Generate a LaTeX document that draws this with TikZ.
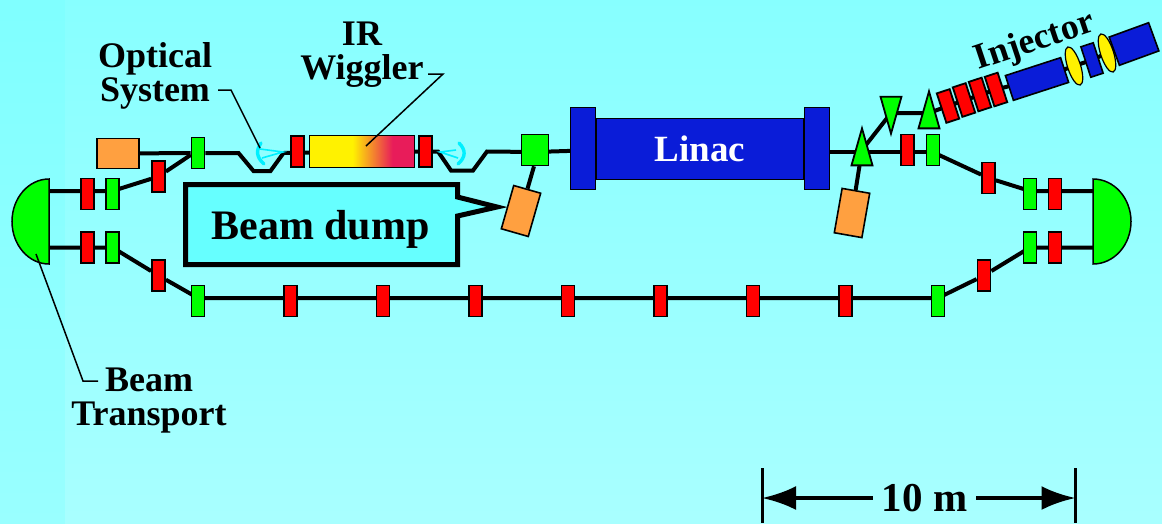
\documentclass[tikz,border=0pt]{standalone}
\usepackage{fontspec}
\setmainfont{Liberation Serif}
\usetikzlibrary{positioning,calc,backgrounds,shapes.geometric,arrows.meta}

\definecolor{magred}{HTML}{FF0000}
\definecolor{maggreen}{HTML}{00FF00}
\definecolor{dumporange}{HTML}{FFA040}
\definecolor{cavblue}{HTML}{0A1CD8}
\definecolor{dumpcyan}{HTML}{66FFFF}
\definecolor{mirrorcyan}{HTML}{00F0FF}
\definecolor{wigyellow}{HTML}{FFF200}
\definecolor{wigred}{HTML}{E81C5A}
\pgfdeclarehorizontalshading{wigshade}{100bp}{
  color(0bp)=(wigyellow); color(45.5bp)=(wigyellow);
  color(64.5bp)=(wigred); color(100bp)=(wigred)}

\begin{document}
\begin{tikzpicture}[
  x=1pt, y=-1pt,
  mag/.style={
    draw,
    line width=1.8pt,
    inner sep=0pt,
    minimum width=13pt,
    minimum height=31pt
  },
  quad/.style={mag, fill=magred},     % red magnets
  dip/.style={mag, fill=maggreen},    % green magnets
  dump/.style={draw, line width=1.6pt, inner sep=0pt, fill=dumporange},
  cav/.style={draw, line width=1.6pt, inner sep=0pt, fill=cavblue},
  tri/.style={
    draw,
    line width=1.8pt,
    fill=maggreen,
    inner sep=0pt,
    isosceles triangle,
    isosceles triangle stretches,
    minimum width=21pt,
    minimum height=37pt,
    anchor=apex
  },
  lens/.style={
    draw,
    line width=1.2pt,
    fill=yellow,
    ellipse,
    inner sep=0pt,
    minimum width=13pt,
    minimum height=40pt,
    rotate=18
  },
  arcmag/.style={draw, line width=1.5pt, fill=maggreen},
  beam/.style={line width=4pt, line join=miter},
  lead/.style={line width=1.5pt},
  mirror/.style={draw=mirrorcyan, line width=3.4pt, line cap=round},
  ray/.style={draw=mirrorcyan, line width=1.6pt},
  lab/.style={font=\fontsize{36}{34}\selectfont\bfseries, align=center, inner sep=0pt}
]
\useasboundingbox (0,0) rectangle (1162,523);

% --- Bending arcs ---
\draw[arcmag] (49,179) arc[start angle=270, end angle=90, x radius=37, y radius=42.5] -- cycle;
\draw[arcmag] (1093,179) arc[start angle=270, end angle=450, x radius=38, y radius=42.5] -- cycle;
\coordinate (arcLa) at (49,191);
\coordinate (arcLb) at (49,247.5);
\coordinate (arcRa) at (1093,191);
\coordinate (arcRb) at (1093,247.5);

% --- Left end of the ring ---
\node[quad] (qLa) at (87.5,194) {};
\node[dip, right=10.2pt of qLa] (dLa) {};
\node[quad] (qLb) at (87.5,247.5) {};
\node[dip, right=10.2pt of qLb] (dLb) {};
\node[quad] (qTop) at (158.5,176.5) {};
\node[quad] (qLow) at (158.5,275.5) {};
\node[dip] (dTop) at (198,153) {};
\node[dump, minimum width=42pt, minimum height=30pt] (dumpTop) at (118,153.5) {};

% --- Bottom row ---
\node[dip] (b1) at (198,301) {};
\node[quad, right=77.7pt of b1] (b2) {};
\node[quad, right=77.7pt of b2] (b3) {};
\node[quad, right=77.7pt of b3] (b4) {};
\node[quad, right=77.7pt of b4] (b5) {};
\node[quad, right=77.7pt of b5] (b6) {};
\node[quad, right=77.7pt of b6] (b7) {};
\node[quad, right=77.7pt of b7] (b8) {};
\node[dip, right=77.7pt of b8] (b9) {};

% --- Wiggler section ---
\node[quad] (qWa) at (297.5,151.5) {};
\node[draw, line width=1.6pt, inner sep=0pt, shading=wigshade, minimum width=105pt, minimum height=32pt] (wig) at (362,151.5) {};
\node[quad] (qWb) at (425.5,151.5) {};
\node[draw, line width=1.6pt, inner sep=0pt, fill=maggreen, minimum width=27pt, minimum height=31pt] (dSq) at (535,150) {};
\coordinate (wigIn) at (366,146);

% mirrors
\coordinate (optIn) at (260,148);
\draw[mirror] (261,143) .. controls (256,150) and (256,157) .. (264,164);
\draw[ray] (260,149) -- (283,152) -- (262,158);
\draw[mirror] (459,143) .. controls (466,150) and (466,157) .. (458,164);
\draw[ray] (456,150) -- (440,152) -- (458,158);

% --- Linac ---
\node[cav, minimum width=25pt, minimum height=82pt] (capL) at (583,148.5) {};
\node[cav, minimum width=207pt, minimum height=61pt, font=\fontsize{37}{37}\selectfont\bfseries, text=white] (linac) at (700,149) {Linac};
\node[cav, minimum width=25pt, minimum height=82pt] (capR) at (817,148.5) {};

% --- Beam dump box ---
\draw[line width=5pt, fill=dumpcyan, miter limit=10]
  (185.5,184.5) -- (457.5,184.5) -- (457.5,197) -- (497,207) -- (457.5,216)
  -- (457.5,264.5) -- (185.5,264.5) -- cycle;
\node[inner sep=0pt, font=\fontsize{42}{42}\selectfont\bfseries] (dumpTxt) at (320.5,229) {Beam dump};
\node[dump, minimum width=28pt, minimum height=45pt, rotate=-16] (dumpA) at (521,211) {};
\node[dump, minimum width=28pt, minimum height=45pt, rotate=-10] (dumpB) at (852,213) {};

% --- Injector line ---
\node[tri, shape border rotate=90] (t1) at (862,126) {};
\node[tri, shape border rotate=270] (t2) at (891,136) {};
\node[tri, shape border rotate=90] (t3) at (929,89) {};
\node[quad] (qRa) at (907.5,150) {};
\node[dip] (dRa) at (933,150) {};
\node[mag, fill=magred, rotate=18, minimum width=13.5pt] (i1) at (948,106) {};
\node[mag, fill=magred, rotate=18, minimum width=13.5pt] (i2) at (964,100) {};
\node[mag, fill=magred, rotate=18, minimum width=13.5pt] (i3) at (980,94.5) {};
\node[mag, fill=magred, rotate=18, minimum width=13.5pt] (i4) at (996,89.5) {};
\node[cav, minimum width=58pt, minimum height=26pt, rotate=18] (g1) at (1037,79) {};
\node[lens] (l1) at (1074,66) {};
\node[cav, minimum width=13pt, minimum height=32pt, rotate=18] (g2) at (1092,60) {};
\node[lens] (l2) at (1107,53) {};
\node[cav, minimum width=42pt, minimum height=30pt, rotate=20] (g3) at (1134,44) {};

% --- Right end of the ring ---
\node[quad] (qRb) at (988.5,178) {};
\node[dip] (dRb) at (1030,194) {};
\node[quad, right=10.2pt of dRb] (qRc) {};
\node[dip] (dRc) at (1030,247.5) {};
\node[quad, right=10.2pt of dRc] (qRd) {};
\node[quad] (qRe) at (984,275.5) {};

% --- Labels ---
\node[lab] (optLab) at (155,76) {Optical\\System};
\node[lab] (wigLab) at (362,55) {IR\\Wiggler};
\node[lab, rotate=18.5] (injLab) at (1035,42) {Injector};
\node[lab] (trLab) at (149,401) {Beam\\Transport};

% --- Leader lines ---
\coordinate (optK) at (231,90);
\coordinate (wigK) at (443,74);
\coordinate (trK) at (83,381);
\coordinate (trIn) at (36,254);
\draw[lead] (218,90) -- (optK) -- (optIn);
\draw[lead] (428,74) -- (wigK) -- (wigIn);
\draw[lead] (98,381) -- (trK) -- (trIn);

% --- Scale bar ---
\coordinate (barL) at (762,498);
\coordinate (barR) at (1075.5,498);
\node[inner sep=9pt, font=\fontsize{41}{41}\selectfont\bfseries] (barTxt) at (924.5,498) {10 m};
\draw[line width=3pt] (762,468) -- (barL) -- (762,523);
\draw[line width=3pt] (1075.5,468) -- (barR) -- (1075.5,523);
\draw[line width=4pt, -{Latex[length=34pt,width=24pt]}] (barTxt) -- (barL);
\draw[line width=4pt, -{Latex[length=34pt,width=24pt]}] (barTxt) -- (barR);

% --- Background and beam pipe, behind everything ---
\begin{pgfonlayer}{background}
  \fill[top color=cyan!50, bottom color=cyan!40] (0,0) rectangle (66,523);
  \fill[top color=cyan!47, bottom color=cyan!34] (65,0) rectangle (1162,523);
  \draw[beam] (arcLa) -- (dLa.center |- arcLa) -- (qTop) -- ([yshift=-2pt]dTop.west);
  \draw[beam] (dumpTop) -- (dTop) -- ++(40.5,0) -- ++(15,18) -- ++(17,0) -- ++(13,-18) -- (wig.center) -- ++(76,0) -- ++(13,19) -- ++(22,0) -- ++(14,-19) -- (dSq.center |- 487,152) -- ([yshift=-2pt]capL.center);
  \draw[beam] (arcLb) -- (dLb.center |- arcLb) -- (qLow) -- ([yshift=3pt]b1.center);
  \draw[beam] ([yshift=3pt]b1.center) -- ([yshift=3pt]b9.center) -- (qRe) -- (dRc.center) -- (arcRb);
  \draw[beam] ([yshift=-3.5pt]capR.center) -- ++(116,0);
  \draw[beam] (dRa.center) ++(6,5) -- (qRb) -- ([yshift=3pt]dRb.center) -- (arcRa);
  \draw[beam] (dSq.south) ++(-1,0) -- (dumpA);
  \draw[beam] (862,150) -- (dumpB);
  \draw[beam] (862,150) -- (891,113) -- (929,113) -- (i1.center) -- (i4.center) -- (g1.center) -- (l1.center) -- (g2.center) -- (l2.center);
\end{pgfonlayer}

\end{tikzpicture}
\end{document}
